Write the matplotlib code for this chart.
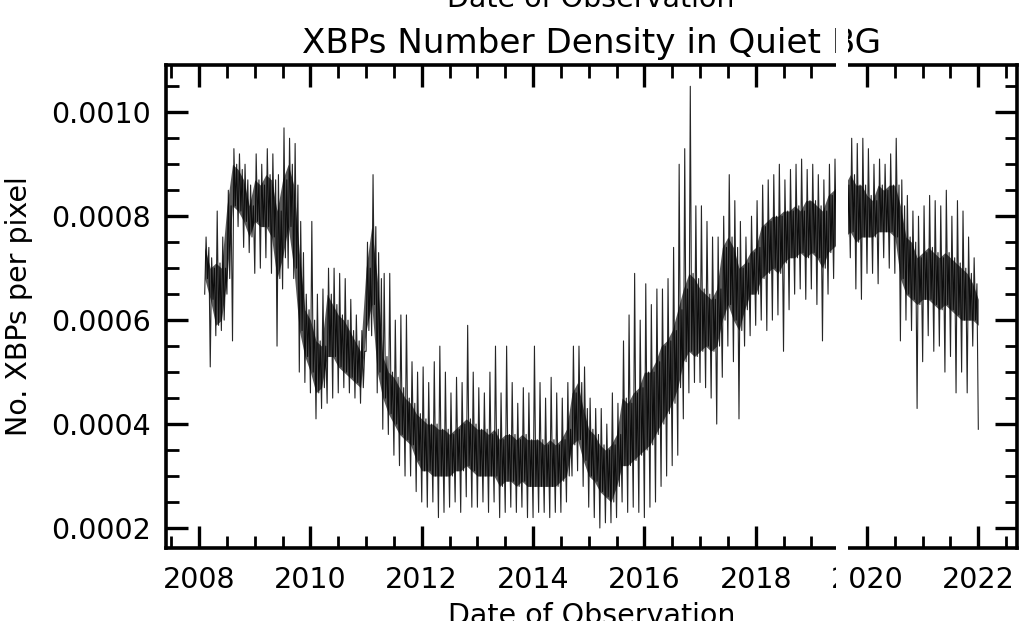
import numpy as np
import matplotlib
matplotlib.use("Agg")
import matplotlib.pyplot as plt
from matplotlib.ticker import MultipleLocator, FormatStrFormatter
from matplotlib.patches import Rectangle

# sampling grid, one value every 0.1 yr (2008.1 ... 2022.0)
years = np.round(np.arange(2008.1, 2022.05, 0.1), 1)

# values, in units of 1e-4 XBPs per pixel
# hi / lo = tips of the spikes, core_hi / core_lo = the dense black band
hi = [
    7.6, 7.2, 8.1, 7.6, 8.5, 9.3, 9.2, 9.0, 8.6,             # 2008.1-2008.9
    9.2, 9.0, 9.3, 9.2, 8.8, 9.7, 9.5, 9.4, 7.9, 6.5,        # 2009
    7.9, 6.5, 6.6, 7.0, 7.0, 6.9, 6.8, 6.4, 6.1, 5.8,        # 2010
    7.5, 8.8, 7.3, 6.9, 6.9, 6.0, 6.1, 6.1, 5.2, 5.0,        # 2011
    5.1, 4.8, 5.2, 5.5, 5.0, 4.6, 4.9, 4.8, 5.9, 5.0,        # 2012
    4.7, 4.6, 5.0, 5.5, 4.6, 5.5, 4.8, 4.4, 4.7, 4.6,        # 2013
    5.5, 4.8, 4.5, 4.9, 4.6, 4.5, 4.8, 5.5, 5.5, 5.1,        # 2014
    4.5, 4.3, 4.3, 4.0, 4.6, 4.4, 5.6, 6.1, 6.9, 6.0,        # 2015
    6.7, 6.3, 6.6, 6.6, 6.8, 7.4, 9.0, 9.3, 10.5, 8.2,       # 2016
    8.2, 7.9, 7.6, 7.6, 8.0, 8.8, 8.3, 7.9, 7.6, 8.0,        # 2017
    8.3, 8.6, 8.7, 8.8, 9.0, 8.7, 8.9, 9.0, 9.1, 8.9,        # 2018
    9.0, 8.8, 8.7, 9.0, 9.1, 9.2, 9.3, 9.5, 9.4, 9.5,        # 2019
    9.3, 9.0, 9.1, 9.0, 9.2, 9.5, 8.7, 8.4, 8.1, 8.0,        # 2020
    8.2, 8.4, 8.3, 8.2, 8.5, 8.0, 8.3, 8.1, 7.6, 7.2,        # 2021
    6.6,                                                     # 2022.0
]
core_hi = [
    7.4, 7.0, 7.1, 7.0, 8.2, 9.0, 8.9, 8.7, 8.2,
    8.7, 8.6, 8.8, 8.7, 8.1, 8.7, 9.0, 8.6, 7.3, 6.2,
    6.0, 5.6, 5.5, 6.5, 6.3, 6.1, 6.0, 5.8, 5.6, 5.4,
    7.0, 7.8, 6.8, 5.3, 5.0, 4.9, 4.7, 4.5, 4.4, 4.2,
    4.1, 4.0, 4.0, 3.9, 3.9, 3.8, 3.9, 4.0, 4.1, 4.0,
    3.9, 3.9, 3.8, 3.9, 3.7, 3.8, 3.8, 3.7, 3.8, 3.7,
    3.7, 3.7, 3.6, 3.7, 3.6, 3.7, 3.9, 4.6, 4.8, 4.3,
    3.9, 3.8, 3.6, 3.5, 3.6, 3.8, 4.5, 4.4, 4.6, 4.7,
    5.0, 5.0, 5.2, 5.5, 5.6, 5.8, 6.2, 6.6, 6.9, 6.8,
    6.6, 6.5, 6.4, 6.6, 7.4, 7.6, 7.4, 7.0, 7.1, 7.3,
    7.4, 7.8, 7.9, 8.0, 8.0, 8.1, 8.1, 8.2, 8.1, 8.3,
    8.3, 8.2, 8.1, 8.4, 8.5, 8.6, 8.6, 8.8, 8.6, 8.6,
    8.4, 8.3, 8.6, 8.5, 8.6, 8.6, 8.2, 7.6, 7.5, 7.2,
    7.3, 7.4, 7.3, 7.2, 7.3, 7.2, 7.1, 7.0, 6.9, 6.7,
    6.4,
]
core_lo = [
    6.8, 6.4, 5.9, 6.0, 6.8, 8.2, 8.1, 7.9, 7.6,
    7.9, 7.8, 7.8, 7.6, 6.8, 7.2, 7.8, 7.0, 5.8, 5.3,
    5.0, 4.6, 4.7, 5.3, 5.3, 5.1, 5.0, 4.9, 4.8, 4.7,
    5.8, 6.3, 5.0, 4.5, 4.2, 4.0, 3.8, 3.7, 3.6, 3.3,
    3.1, 3.1, 3.0, 3.0, 3.0, 3.0, 3.1, 3.1, 3.2, 3.1,
    3.0, 3.0, 3.0, 3.0, 2.8, 2.9, 2.9, 2.8, 2.9, 2.8,
    2.8, 2.8, 2.8, 2.8, 2.8, 2.9, 3.0, 3.6, 3.7, 3.3,
    3.0, 2.9, 2.7, 2.6, 2.5, 2.8, 3.2, 3.2, 3.3, 3.4,
    3.5, 3.6, 3.8, 4.0, 4.2, 4.4, 4.7, 5.2, 5.4, 5.3,
    5.4, 5.5, 5.4, 5.5, 6.0, 6.3, 6.0, 5.8, 6.2, 6.5,
    6.5, 6.8, 6.9, 7.0, 6.9, 7.1, 7.2, 7.2, 7.3, 7.2,
    7.3, 7.2, 7.0, 7.3, 7.4, 7.5, 7.6, 7.7, 7.5, 7.6,
    7.6, 7.6, 7.7, 7.7, 7.7, 7.6, 6.8, 6.5, 6.4, 6.3,
    6.4, 6.4, 6.3, 6.2, 6.3, 6.2, 6.1, 6.0, 6.0, 6.0,
    5.9,
]
lo = [
    6.5, 5.1, 5.7, 5.8, 6.5, 5.6, 7.8, 7.4, 7.3,
    6.9, 7.0, 7.2, 6.9, 5.5, 6.6, 7.0, 6.8, 5.0, 4.8,
    4.6, 4.1, 4.3, 4.4, 4.5, 4.6, 4.7, 4.6, 4.5, 4.4,
    5.4, 5.7, 4.6, 3.9, 3.8, 3.4, 3.2, 3.0, 3.0, 2.7,
    2.5, 2.4, 2.5, 2.2, 2.3, 2.4, 2.5, 2.3, 2.6, 2.4,
    2.4, 2.5, 2.3, 2.5, 2.2, 2.3, 2.4, 2.3, 2.4, 2.2,
    2.2, 2.3, 2.3, 2.2, 2.3, 2.3, 2.5, 3.0, 3.1, 2.8,
    2.4, 2.2, 2.0, 2.1, 2.1, 2.2, 2.5, 2.3, 2.4, 2.3,
    2.2, 2.4, 2.5, 2.8, 3.0, 3.2, 3.4, 4.1, 4.6, 4.8,
    4.8, 4.7, 4.5, 4.0, 4.9, 5.5, 5.2, 4.1, 5.5, 5.7,
    5.9, 6.0, 5.8, 6.0, 6.1, 5.4, 6.2, 6.5, 6.6, 6.4,
    6.6, 6.3, 5.6, 6.5, 6.8, 6.8, 6.9, 7.2, 6.6, 6.4,
    6.9, 6.9, 6.7, 7.2, 7.0, 6.9, 5.6, 6.0, 5.8, 4.3,
    5.2, 5.7, 5.4, 5.5, 5.0, 5.3, 4.6, 5.0, 4.6, 5.5,
    3.9,
]

scale = 1e-4
hi = np.array(hi) * scale
lo = np.array(lo) * scale
core_hi = np.array(core_hi) * scale
core_lo = np.array(core_lo) * scale

# interleave the four readings so the trace zig-zags like the daily data
step = 0.1
t_line = np.column_stack([years, years + step / 4, years + step / 2, years + 3 * step / 4]).ravel()
v_line = np.column_stack([lo, hi, core_lo, core_hi]).ravel()
t_line = t_line[:-3]
v_line = v_line[:-3]

plt.rcParams['font.family'] = 'DejaVu Sans'
plt.rcParams['font.size'] = 20.5

fig = plt.figure(figsize=(10.27, 6.21), dpi=100)
ax = fig.add_axes([166 / 1027, 1 - 548 / 621, (1017 - 166) / 1027, (548 - 65) / 621])

ax.fill_between(years, core_lo, core_hi, color='black', lw=0, alpha=0.65)
ax.plot(t_line, v_line, color='black', lw=0.8, alpha=0.85)

ax.set_title('XBPs Number Density in Quiet BG', fontsize=24.6, pad=9)
ax.set_xlabel('Date of Observation', labelpad=6)
ax.set_ylabel('No. XBPs per pixel', labelpad=13)

ax.xaxis.set_major_locator(MultipleLocator(2))
ax.xaxis.set_minor_locator(MultipleLocator(0.5))
ax.yaxis.set_major_locator(MultipleLocator(0.0002))
ax.yaxis.set_minor_locator(MultipleLocator(0.00005))
ax.yaxis.set_major_formatter(FormatStrFormatter('%.4f'))
ax.set_ylim(0.0001615, 0.001091)

ax.tick_params(which='both', direction='in', top=True, right=True)
ax.tick_params(which='major', length=16, width=2.4)
ax.tick_params(which='minor', length=9, width=2.0)
ax.tick_params(axis='x', pad=13)
ax.tick_params(axis='y', pad=11)
for sp in ax.spines.values():
    sp.set_linewidth(2.6)

# xlabel of the panel above, mostly cut off by the top edge
fig.text(591 / 1027, 1 - 7 / 621, 'Date of Observation', ha='center', va='baseline')

# white strip crossing the whole picture
fig.patches.append(Rectangle((836 / 1027, 0), 12 / 1027, 1, transform=fig.transFigure,
                             facecolor='white', edgecolor='none', zorder=10))

fig.savefig('out.png', dpi=100)
